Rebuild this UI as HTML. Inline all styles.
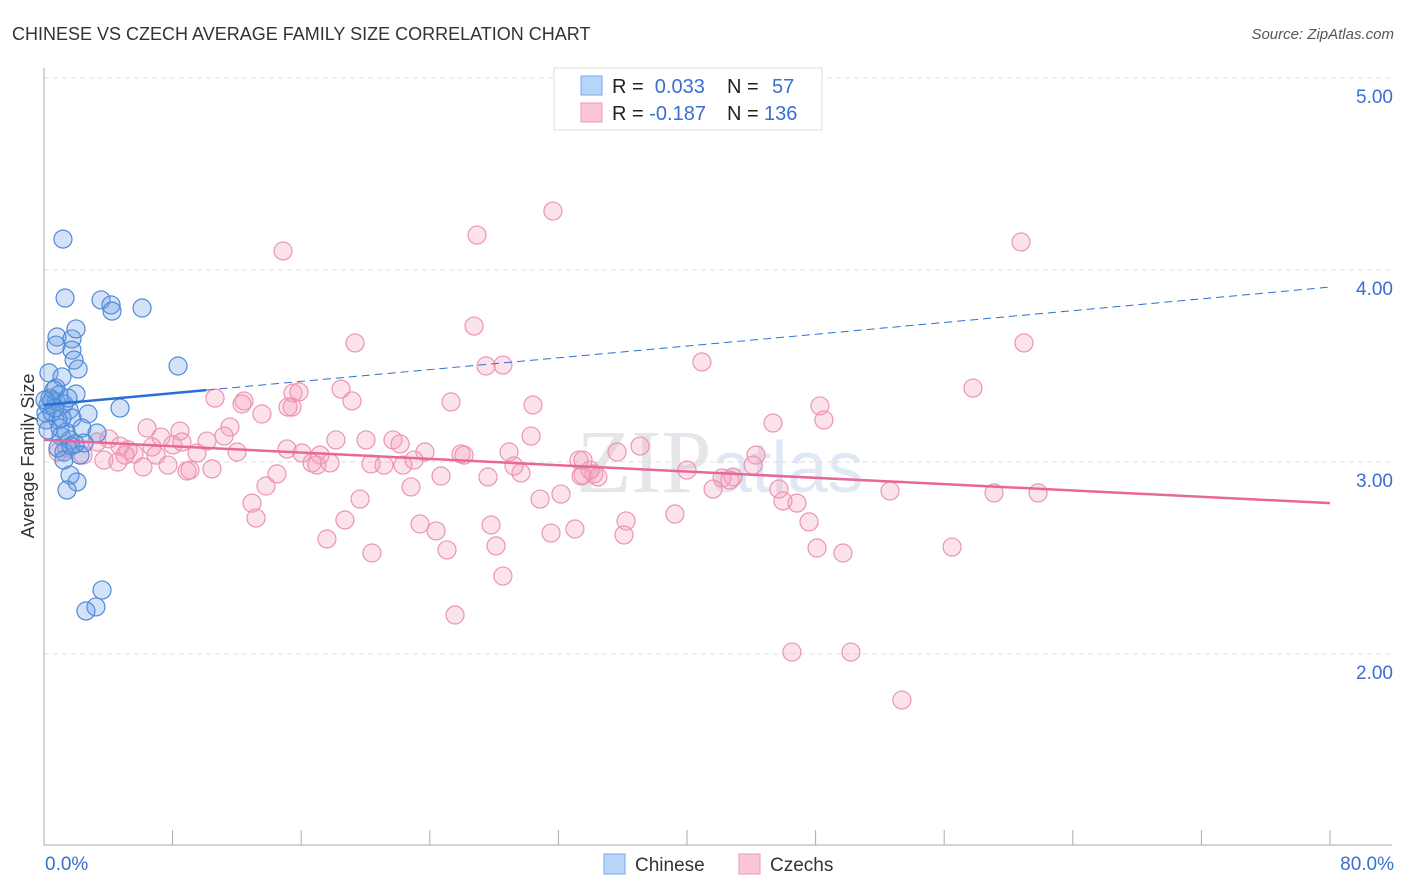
<!DOCTYPE html>
<html><head><meta charset="utf-8"><style>
body{margin:0;background:#fff;font-family:"Liberation Sans",sans-serif}
svg{display:block}
</style></head><body>
<svg id="chart" width="1406" height="892" xmlns="http://www.w3.org/2000/svg">
<text x="12" y="40" font-size="18" fill="#333">CHINESE VS CZECH AVERAGE FAMILY SIZE CORRELATION CHART</text>
<text x="1394" y="39" font-size="15" fill="#555" text-anchor="end" font-style="italic">Source: ZipAtlas.com</text>
<text transform="translate(34,456) rotate(-90)" font-size="18" fill="#333" text-anchor="middle">Average Family Size</text>
<text x="720" y="492" font-size="90" fill="#e6e6ea" text-anchor="middle" font-family="Liberation Serif,serif">ZIP<tspan fill="#dfe8f4" font-family="Liberation Sans,sans-serif" font-size="72">atlas</tspan></text>
<g id="grid"></g><g id="marks"></g>
<g>
<rect x="554" y="68" width="268" height="62" fill="#fff" stroke="#ddd"/>
<rect x="581" y="76" width="21" height="19" fill="#b8d4f6" stroke="#7aaaea"/>
<rect x="581" y="103" width="21" height="19" fill="#f9c7d6" stroke="#eb9ab4"/>
<text x="612" y="93" font-size="20" fill="#222">R = <tspan fill="#3a6fcf">&#160;0.033</tspan><tspan x="727">N = </tspan><tspan fill="#3a6fcf" x="772">57</tspan></text>
<text x="612" y="120" font-size="20" fill="#222">R = <tspan fill="#3a6fcf">-0.187</tspan><tspan x="727">N = </tspan><tspan fill="#3a6fcf" x="764">136</tspan></text>
</g>
<g>
<rect x="604" y="854" width="21" height="20" fill="#b8d4f6" stroke="#7aaaea"/>
<text x="635" y="871" font-size="19" fill="#333">Chinese</text>
<rect x="739" y="854" width="21" height="20" fill="#f9c7d6" stroke="#eb9ab4"/>
<text x="770" y="871" font-size="19" fill="#333">Czechs</text>
</g>
</svg>
<script>
const yTicks=[5,4,3,2];
const yTickLabels=["5.00","4.00","3.00","2.00"];
const xTickLabels=["0.0%","80.0%"];
const chineseX=[],chineseY=[],czechX=[],czechY=[];
const bluePx=[[63,239],[65,298],[101,300],[111,305],[112,311],[142,308],[178,366],[57,337],[56,345],[72,339],[76,329],[72,350],[74,360],[78,369],[49,373],[62,377],[56,388],[59,395],[76,394],[52,400],[48,405],[56,402],[64,404],[69,410],[46,413],[88,414],[72,418],[58,420],[120,408],[82,428],[97,433],[61,436],[70,440],[84,443],[64,452],[58,448],[71,446],[80,455],[64,460],[77,482],[70,475],[67,490],[102,590],[96,607],[86,611],[46,420],[50,398],[54,390],[48,430],[60,428],[52,412],[66,432],[75,444],[62,418],[55,408],[45,400],[68,398]];
const pinkPx=[[283,251],[477,235],[553,211],[1021,242],[474,326],[355,343],[1024,343],[486,366],[503,365],[702,362],[973,388],[341,389],[215,398],[244,401],[242,404],[293,393],[299,392],[352,401],[451,402],[533,405],[292,407],[288,407],[262,414],[820,406],[824,420],[773,423],[147,428],[161,437],[180,431],[230,427],[224,436],[207,441],[336,440],[366,440],[393,440],[400,444],[531,436],[640,446],[109,439],[120,446],[128,450],[152,447],[173,445],[182,442],[197,453],[237,452],[287,449],[302,453],[320,455],[425,452],[461,454],[509,452],[617,452],[756,455],[58,452],[67,448],[83,455],[97,442],[104,460],[118,462],[134,454],[143,467],[168,465],[187,471],[190,470],[212,469],[277,474],[312,463],[317,465],[330,463],[371,464],[384,465],[403,465],[414,460],[441,476],[488,477],[521,473],[579,460],[583,475],[594,474],[598,477],[687,470],[722,478],[733,477],[753,465],[266,486],[252,503],[256,518],[360,499],[411,487],[514,466],[540,499],[561,494],[713,489],[779,489],[783,501],[797,503],[890,491],[994,493],[1038,493],[345,520],[420,524],[436,531],[491,525],[551,533],[575,529],[626,521],[675,514],[809,522],[624,535],[327,539],[372,553],[447,550],[496,546],[817,548],[843,553],[952,547],[503,576],[455,615],[792,652],[851,652],[902,700],[581,476],[590,470],[730,480],[583,460],[464,455],[156,455],[125,455]];
bluePx.forEach(p=>{chineseX.push(+((p[0]-44)/16.075).toFixed(2));chineseY.push(+(5-(p[1]-78)/192).toFixed(3));});
pinkPx.forEach(p=>{czechX.push(+((p[0]-44)/16.075).toFixed(2));czechY.push(+(5-(p[1]-78)/192).toFixed(3));});
const chineseTrend=[3.297,3.911];
const czechTrend=[3.115,2.786];
const xs=v=>44+v*16.075, ys=v=>78+(5-v)*192;
const NS="http://www.w3.org/2000/svg";
function mk(tag,attrs,parent){const e=document.createElementNS(NS,tag);for(const k in attrs)e.setAttribute(k,attrs[k]);parent.appendChild(e);return e;}
const grid=document.getElementById('grid'),marks=document.getElementById('marks');
yTicks.forEach((t,i)=>{
 const l=mk('line',{x1:44,x2:1392,y1:ys(t),y2:ys(t),stroke:'#ddd','stroke-dasharray':'5,4'},grid);
 
 
 const tx=mk('text',{x:1393,y:ys(t)+25,'font-size':19,fill:'#3a6fcf','text-anchor':'end'},grid);
 tx.textContent=yTickLabels[i];
 
 
});
const ax=mk('line',{x1:44,x2:44,y1:68,y2:845,stroke:'#aaa'},grid);


const bx=mk('line',{x1:44,x2:1392,y1:845,y2:845,stroke:'#aaa'},grid);


for(let i=0;i<=10;i++){const t=mk('line',{x1:xs(i*8),x2:xs(i*8),y1:830,y2:845,stroke:'#aaa'},grid);
 
 }
[[0,'start',45],[80,'end',1394]].forEach((d,i)=>{const t=mk('text',{x:d[2],y:870,'font-size':19,fill:'#3a6fcf','text-anchor':d[1]},grid);t.textContent=xTickLabels[i];
 
 });
czechX.forEach((x,i)=>{const c=mk('circle',{cx:xs(x),cy:ys(czechY[i]),r:9,fill:'rgba(244,160,188,0.3)',stroke:'#ec94b2','stroke-width':1.2},marks);
 
 });
chineseX.forEach((x,i)=>{const c=mk('circle',{cx:xs(x),cy:ys(chineseY[i]),r:9,fill:'rgba(110,160,230,0.3)',stroke:'#4d8ad8','stroke-width':1.2},marks);
 
 });
const by=x=>chineseTrend[0]+(chineseTrend[1]-chineseTrend[0])*x/80;
const b1=mk('line',{x1:xs(0),y1:ys(by(0)),x2:xs(10.1),y2:ys(by(10.1)),stroke:'#2a6fd6','stroke-width':2.5},marks);


const b2=mk('line',{x1:xs(10.1),y1:ys(by(10.1)),x2:xs(80),y2:ys(by(80)),stroke:'#2a6fd6','stroke-width':1,'stroke-dasharray':'8,5'},marks);


const p=mk('line',{x1:xs(0),y1:ys(czechTrend[0]),x2:xs(80),y2:ys(czechTrend[1]),stroke:'#e8669a','stroke-width':2.5},marks);


</script>
</body></html>
